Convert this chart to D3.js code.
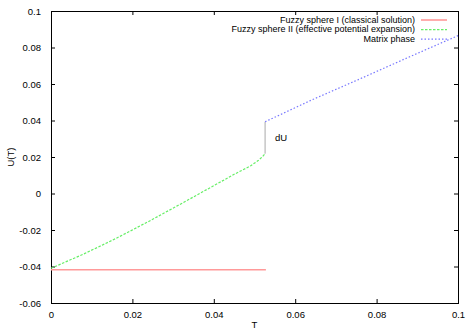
<!DOCTYPE html>
<html>
<head>
<meta charset="utf-8">
<script src="https://cdn.jsdelivr.net/npm/d3@7"></script>
<style>
  body { margin: 0; background: #fff; }
  svg text { font-family: "Liberation Sans", Arial, sans-serif; fill: #000; }
</style>
</head>
<body>
<svg id="chart" width="475" height="333"></svg>
<script>
// data
const xTicks = [0, 0.02, 0.04, 0.06, 0.08, 0.1];
const xTickLabels = ["0", "0.02", "0.04", "0.06", "0.08", "0.1"];
const yTicks = [-0.06, -0.04, -0.02, 0, 0.02, 0.04, 0.06, 0.08, 0.1];
const yTickLabels = ["-0.06", "-0.04", "-0.02", "0", "0.02", "0.04", "0.06", "0.08", "0.1"];

const classicalT = [0, 0.0528];
const classicalU = [-0.0418, -0.0418];

const effectiveT = [0, 0.008, 0.016, 0.024, 0.032, 0.040, 0.045, 0.049, 0.051, 0.052, 0.0526];
const effectiveU = [-0.041, -0.0332, -0.0246, -0.0153, -0.0056, 0.0043, 0.0105, 0.0151, 0.0182, 0.0203, 0.0218];

const matrixT = [0.0526, 0.064, 0.0759, 0.088, 0.1];
const matrixU = [0.0393, 0.0512, 0.0628, 0.0748, 0.0865];

const jumpT = [0.0526, 0.0526];
const jumpU = [0.0218, 0.0393];

const seriesNames = [
    "Fuzzy sphere I (classical solution)",
    "Fuzzy sphere II (effective potential expansion)",
    "Matrix phase"
];

const svg = d3.select("#chart");
const plotLeft = 51, plotRight = 458, plotTop = 11, plotBottom = 303;

const x = d3.scaleLinear().domain([0, 0.1]).range([plotLeft, plotRight]);
const y = d3.scaleLinear().domain([-0.06, 0.1]).range([plotBottom, plotTop]);

const line = d3.line().x(d => x(d[0])).y(d => y(d[1]));
const zip = (a, b) => a.map((v, i) => [v, b[i]]);

// axes (gnuplot style: inward ticks, mirrored)
const tickLen = 4;
svg.append("g")
    .attr("transform", `translate(0,${plotBottom})`)
    .call(d3.axisBottom(x).tickValues(xTicks).tickSizeInner(-tickLen).tickSizeOuter(0)
        .tickPadding(8).tickFormat((d, i) => xTickLabels[i]))
    .call(g => g.select(".domain").remove())
    .call(g => g.selectAll("text").attr("font-size", 9.5).attr("font-family", "Liberation Sans, Arial, sans-serif"));

svg.append("g")
    .attr("transform", `translate(0,${plotTop})`)
    .call(d3.axisTop(x).tickValues(xTicks).tickSizeInner(-tickLen).tickSizeOuter(0).tickFormat(""))
    .call(g => g.select(".domain").remove());

svg.append("g")
    .attr("transform", `translate(${plotLeft},0)`)
    .call(d3.axisLeft(y).tickValues(yTicks).tickSizeInner(-tickLen).tickSizeOuter(0)
        .tickPadding(10).tickFormat((d, i) => yTickLabels[i]))
    .call(g => g.select(".domain").remove())
    .call(g => g.selectAll("text").attr("font-size", 9.5).attr("font-family", "Liberation Sans, Arial, sans-serif"));

svg.append("g")
    .attr("transform", `translate(${plotRight},0)`)
    .call(d3.axisRight(y).tickValues(yTicks).tickSizeInner(-tickLen).tickSizeOuter(0).tickFormat(""))
    .call(g => g.select(".domain").remove());

svg.append("rect")
    .attr("x", plotLeft + 0.5).attr("y", plotTop + 0.5)
    .attr("width", plotRight - plotLeft).attr("height", plotBottom - plotTop)
    .attr("fill", "none").attr("stroke", "#000").attr("stroke-width", 1);

// axis titles
svg.append("text")
    .attr("x", (plotLeft + plotRight) / 2).attr("y", 328)
    .attr("text-anchor", "middle").attr("font-size", 9.5)
    .text("T");

svg.append("text")
    .attr("transform", `translate(13.5,${(plotTop + plotBottom) / 2}) rotate(-90)`)
    .attr("text-anchor", "middle").attr("font-size", 9.5)
    .text("U(T)");

// series
svg.append("path")
    .datum(zip(classicalT, classicalU))
    .attr("d", line).attr("fill", "none")
    .attr("stroke", "#ff9999").attr("stroke-width", 1.6);

svg.append("path")
    .datum(zip(effectiveT, effectiveU))
    .attr("d", line).attr("fill", "none")
    .attr("stroke", "#66ee66").attr("stroke-width", 1.2)
    .attr("stroke-dasharray", "2.5,1.5");

svg.append("path")
    .datum(zip(jumpT, jumpU))
    .attr("d", line).attr("fill", "none")
    .attr("stroke", "#aaaaaa").attr("stroke-width", 1);

svg.append("path")
    .datum(zip(matrixT, matrixU))
    .attr("d", line).attr("fill", "none")
    .attr("stroke", "#7777ff").attr("stroke-width", 1.2)
    .attr("stroke-dasharray", "1.5,2");

svg.append("text")
    .attr("x", 275).attr("y", 141)
    .attr("font-size", 9.5)
    .text("dU");

// legend
const legendStyles = [
    { stroke: "#ff9999", width: 1.6, dash: null },
    { stroke: "#66ee66", width: 1.2, dash: "2.5,1.5" },
    { stroke: "#7777ff", width: 1.2, dash: "1.5,2" }
];
const legend = svg.append("g");
seriesNames.forEach((name, i) => {
    const ly = 20 + i * 9.6;
    legend.append("text")
        .attr("x", 415).attr("y", ly + 2.8)
        .attr("text-anchor", "end").attr("font-size", 9)
        .text(name);
    legend.append("line")
        .attr("x1", 421).attr("x2", 447)
        .attr("y1", ly).attr("y2", ly)
        .attr("stroke", legendStyles[i].stroke)
        .attr("stroke-width", legendStyles[i].width)
        .attr("stroke-dasharray", legendStyles[i].dash);
});
</script>
</body>
</html>
